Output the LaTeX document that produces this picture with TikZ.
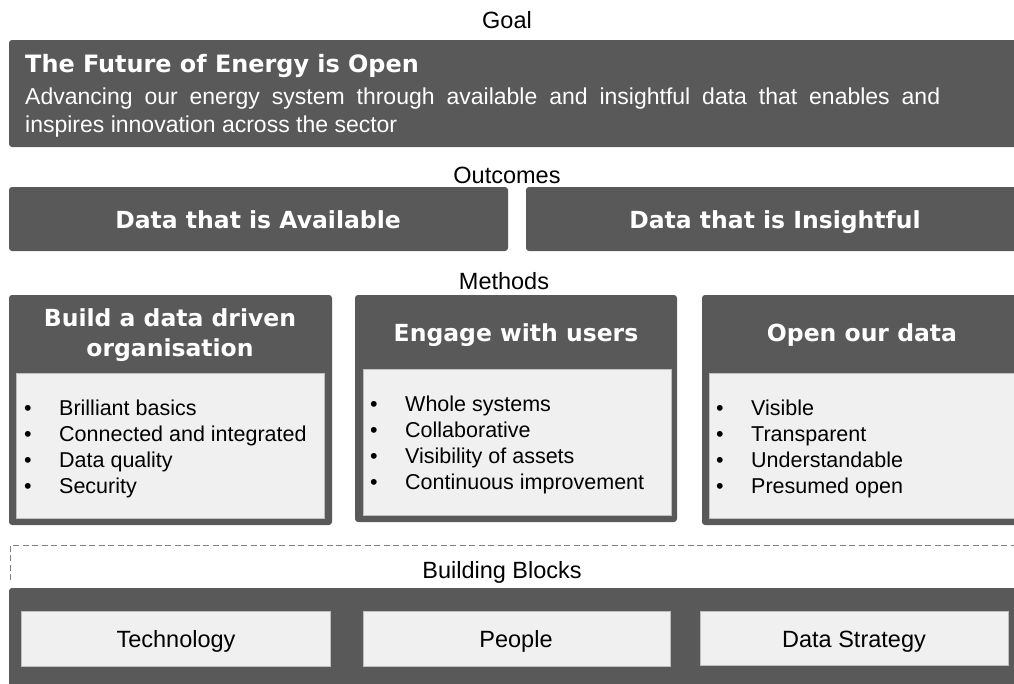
\documentclass[tikz,border=0pt]{standalone}
\usepackage{fontspec}
\setmainfont{Liberation Sans}
\newfontfamily\headfont{DejaVu Sans}
\definecolor{darkgrey}{HTML}{595959}
\definecolor{lightgrey}{HTML}{F0F0F0}
\definecolor{edgegrey}{HTML}{BFBFBF}
\begin{document}
\begin{tikzpicture}[x=1pt,y=-1pt,
  darkbox/.style={fill=darkgrey, rounded corners=3pt},
  lightbox/.style={fill=lightgrey, draw=edgegrey, line width=0.7pt},
  lbl/.style={anchor=base, font=\fontsize{23.5}{28}\selectfont, text=black, inner sep=0pt},
  head/.style={anchor=base, font=\headfont\bfseries\fontsize{23.5}{30}\selectfont, text=white, inner sep=0pt},
  body/.style={anchor=base west, font=\fontsize{23}{28}\selectfont, text=white, inner sep=0pt},
  item/.style={anchor=base west, font=\fontsize{21.5}{26}\selectfont, text=black, inner sep=0pt},
  blt/.style={anchor=base west, font=\fontsize{21.5}{26}\selectfont, text=black, inner sep=0pt},
  block/.style={anchor=base, font=\fontsize{23.5}{28}\selectfont, text=black, inner sep=0pt}
]
\useasboundingbox (0,0) rectangle (1014,683);
\clip (0,0) rectangle (1014,683);

% Goal
\node[lbl] (goal) at (507,28) {Goal};
\path[darkbox] (9,40) rectangle (1030,147);
\node[head, anchor=base west, font=\headfont\bfseries\fontsize{23.9}{30}\selectfont] (title) at (25,72) {The Future of Energy is Open};
\node[body] (body1) at (25,104) {\makebox[915pt][s]{Advancing our energy system through available and insightful data that enables and}};
\node[body] (body2) at (25,132) {inspires innovation across the sector};

% Outcomes
\node[lbl] (outcomes) at (507,183) {Outcomes};
\path[darkbox] (9,187) rectangle (508,251);
\path[darkbox] (526,187) rectangle (1030,251);
\node[head] (avail) at (258,228) {Data that is Available};
\node[head] (insight) at (775,228) {Data that is Insightful};

% Methods
\node[lbl] (methods) at (504,289) {Methods};
\path[darkbox] (9,295) rectangle (332,525);
\path[darkbox] (355,295) rectangle (677,522);
\path[darkbox] (702,295) rectangle (1030,525);
\path[lightbox] (16,373) rectangle (324,518);
\path[lightbox] (363,369) rectangle (671,515);
\path[lightbox] (709,373) rectangle (1030,518);

\node[head] (m1a) at (170,326) {Build a data driven};
\node[head] (m1b) at (170,356) {organisation};
\node[head] (m2) at (516,341) {Engage with users};
\node[head] (m3) at (862,341) {Open our data};

% list 1
\node[blt] (b11) at (24,415) {•};
\node[item] (i11) at (59,415) {Brilliant basics};
\node[blt] (b12) at (24,441) {•};
\node[item] (i12) at (59,441) {Connected and integrated};
\node[blt] (b13) at (24,467) {•};
\node[item] (i13) at (59,467) {Data quality};
\node[blt] (b14) at (24,493) {•};
\node[item] (i14) at (59,493) {Security};
% list 2
\node[blt] (b21) at (370,411) {•};
\node[item] (i21) at (405,411) {Whole systems};
\node[blt] (b22) at (370,437) {•};
\node[item] (i22) at (405,437) {Collaborative};
\node[blt] (b23) at (370,463) {•};
\node[item] (i23) at (405,463) {Visibility of assets};
\node[blt] (b24) at (370,489) {•};
\node[item] (i24) at (405,489) {Continuous improvement};
% list 3
\node[blt] (b31) at (716,415) {•};
\node[item] (i31) at (751,415) {Visible};
\node[blt] (b32) at (716,441) {•};
\node[item] (i32) at (751,441) {Transparent};
\node[blt] (b33) at (716,467) {•};
\node[item] (i33) at (751,467) {Understandable};
\node[blt] (b34) at (716,493) {•};
\node[item] (i34) at (751,493) {Presumed open};

% Building blocks
\draw[gray, line width=0.8pt, dash pattern=on 6pt off 3.5pt] (10,580) -- (10,545) -- (1020,545);
\node[lbl] (bb) at (502,578) {Building Blocks};
\path[darkbox] (9,588) rectangle (1030,700);
\path[lightbox] (21,611) rectangle (330,666);
\path[lightbox] (363,611) rectangle (670,666);
\path[lightbox] (700,611) rectangle (1008,665);
\node[block] (tech) at (176,647) {Technology};
\node[block] (people) at (516,647) {People};
\node[block] (strat) at (854,647) {Data Strategy};
\end{tikzpicture}
\end{document}
